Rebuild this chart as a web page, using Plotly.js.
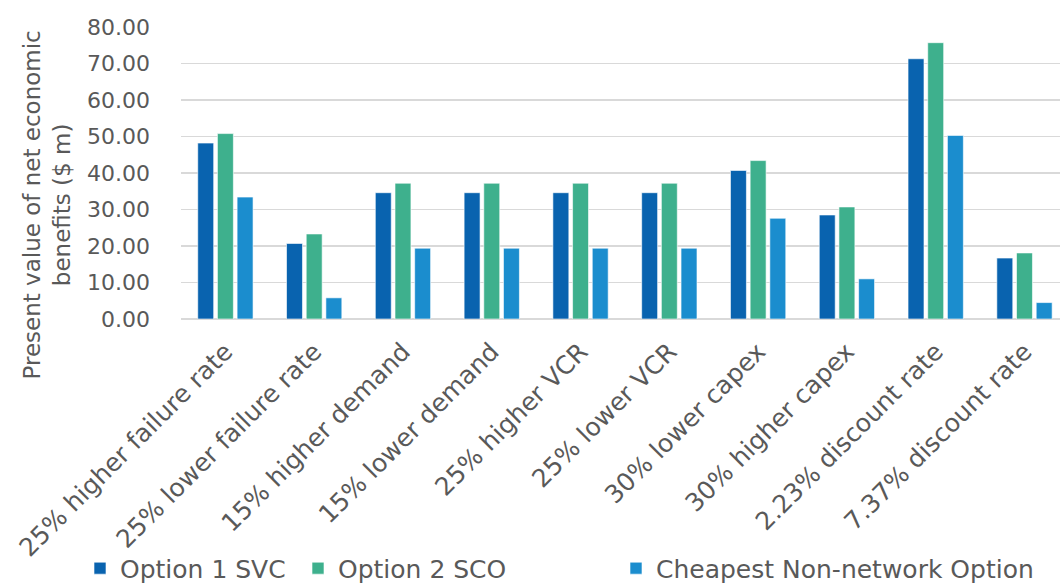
<!DOCTYPE html>
<html>
<head>
<meta charset="utf-8">
<script src="https://cdn.plot.ly/plotly-3.0.1.min.js"></script>
<style>
  html, body { margin: 0; padding: 0; background: #fff; }
  #chart { width: 1060px; height: 586px; }
</style>
</head>
<body>
<div id="chart"></div>
<script>
// Sensitivity scenarios
const scenarios = [
  "25% higher failure rate",
  "25% lower failure rate",
  "15% higher demand",
  "15% lower demand",
  "25% higher VCR",
  "25% lower VCR",
  "30% lower capex",
  "30% higher capex",
  "2.23% discount rate",
  "7.37% discount rate"
];

// Present value of net economic benefits ($ m)
const option1SVC = [48.2, 20.7, 34.6, 34.6, 34.6, 34.6, 40.7, 28.5, 71.3, 16.7];
const option2SCO = [50.8, 23.3, 37.2, 37.2, 37.2, 37.2, 43.4, 30.7, 75.7, 18.1];
const cheapestNonNetwork = [33.4, 5.8, 19.4, 19.4, 19.4, 19.4, 27.6, 11.0, 50.3, 4.5];

const seriesNames = ["Option 1 SVC", "Option 2 SCO", "Cheapest Non-network Option"];
const yTicks = [0, 10, 20, 30, 40, 50, 60, 70, 80];
const yTitle = "Present value of net economic<br>benefits ($ m)";

const FONT = "'DejaVu Sans', sans-serif";
const TEXT = "#595959";

function barTrace(name, values, color, legendId) {
  return {
    type: "bar",
    name: name,
    x: scenarios,
    y: values,
    legend: legendId,
    marker: { color: color, line: { color: "rgba(255,255,255,0.6)", width: 1 } },
    hoverinfo: "x+y+name"
  };
}

const data = [
  barTrace(seriesNames[0], option1SVC, "#0963AF", "legend"),
  barTrace(seriesNames[1], option2SCO, "#3EB08D", "legend2"),
  barTrace(seriesNames[2], cheapestNonNetwork, "#1B8DCE", "legend3")
];

// Legends sit in the bottom strip of the figure, one per series
function legendAt(xPx) {
  return {
    xref: "container", yref: "container",
    x: xPx / 1060, y: 0.03, xanchor: "left", yanchor: "middle",
    orientation: "h",
    font: { family: FONT, size: 25, color: TEXT },
    bgcolor: "rgba(0,0,0,0)",
    itemwidth: 30
  };
}

const layout = {
  width: 1060,
  height: 586,
  margin: { l: 181, r: 0, t: 27, b: 267 },
  paper_bgcolor: "#ffffff",
  plot_bgcolor: "#ffffff",
  font: { family: FONT, color: TEXT, size: 24 },
  barmode: "group",
  bargap: 0.335,
  bargroupgap: 0.19,
  showlegend: true,
  legend: legendAt(80),
  legend2: legendAt(298),
  legend3: legendAt(616),
  xaxis: {
    type: "category",
    range: [-0.5, 9.4],
    tickangle: -45,
    tickfont: { family: FONT, size: 25, color: TEXT },
    ticklabelstandoff: 12,
    showgrid: false,
    showline: false,
    ticks: "",
    zeroline: false,
    automargin: false
  },
  yaxis: {
    range: [0, 80],
    tickvals: yTicks,
    ticktext: yTicks.map(v => v.toFixed(2)),
    tickfont: { family: FONT, size: 22, color: TEXT },
    showgrid: true,
    gridcolor: "#D9D9D9",
    gridwidth: 1.5,
    zeroline: true,
    zerolinecolor: "#D9D9D9",
    zerolinewidth: 1.5,
    showline: false,
    ticks: "",
    ticklabelstandoff: 30,
    automargin: false
  },
  annotations: [{
    text: yTitle,
    textangle: -90,
    xref: "paper", yref: "paper",
    x: -0.152, y: 0.39,
    xanchor: "center", yanchor: "middle",
    showarrow: false,
    font: { family: FONT, size: 23, color: TEXT }
  }]
};

Plotly.newPlot("chart", data, layout, { displayModeBar: false, staticPlot: true });
</script>
</body>
</html>
